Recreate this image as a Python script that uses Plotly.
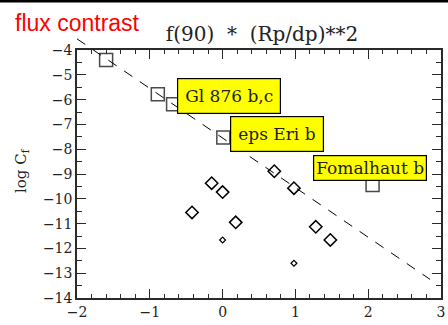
import plotly.graph_objects as go

# ---------------- data ----------------
sq_x = [-1.60, -0.89, -0.68, 0.01, 2.06]
sq_y = [-4.40, -5.78, -6.19, -7.53, -9.44]

dia_x = [0.71, 0.98, -0.15, 0.00, -0.42, 0.18, 1.28, 1.48]
dia_y = [-8.89, -9.57, -9.37, -9.73, -10.55, -10.95, -11.13, -11.66]

small_x = [0.00, 0.98]
small_y = [-11.66, -12.60]

line_x = [-2.00, 2.85]
line_y = [-3.55, -13.25]

label_text = ["Gl 876 b,c", "eps Eri b", "Fomalhaut b"]
label_x = [-0.63, 0.10, 1.245]
label_y = [-5.86, -7.40, -8.76]

x_range = [-2, 3]
y_range = [-14, -4]

# ---------------- layout geometry (pixels) ----------------
W, H = 448, 325
L, R = 77, 7
B = 27
PAPER_TOP = 35       # top of paper area (room for the line overshoot)
FRAME_TOP = 50       # top of the visible frame
paper_h = H - B - PAPER_TOP
frame_h = H - B - FRAME_TOP
main_frac = frame_h / paper_h
y2_top = y_range[0] + (y_range[1] - y_range[0]) / main_frac
paper_w = W - L - R


def px2x(px):
    return (px - L) / paper_w


def py2y(py):
    return (H - B - py) / paper_h


serif = "DejaVu Serif"
axis_col = "#2a2a2a"

fig = go.Figure()

fig.add_trace(go.Scatter(
    x=line_x, y=line_y, mode="lines", xaxis="x", yaxis="y2",
    line=dict(color="black", width=1, dash="10px,9px"),
    hoverinfo="skip", showlegend=False))

fig.add_trace(go.Scatter(
    x=sq_x, y=sq_y, mode="markers",
    marker=dict(symbol="square-open", size=13, color="#4a4a4a",
                line=dict(width=1.5, color="#4a4a4a")),
    showlegend=False))

fig.add_trace(go.Scatter(
    x=dia_x, y=dia_y, mode="markers",
    marker=dict(symbol="diamond-open", size=9.5, color="black",
                line=dict(width=1.5, color="black")),
    showlegend=False))

fig.add_trace(go.Scatter(
    x=small_x, y=small_y, mode="markers",
    marker=dict(symbol="diamond-open", size=4.5, color="black",
                line=dict(width=1.2, color="black")),
    showlegend=False))

annotations = []
pads = [7, 7, 2]
for t, ax_, ay_, p in zip(label_text, label_x, label_y, pads):
    annotations.append(dict(
        x=ax_, y=ay_, xref="x", yref="y", text=t, showarrow=False,
        xanchor="left", yanchor="middle",
        font=dict(family=serif, size=17, color="#222"),
        bgcolor="#ffff00", bordercolor="black", borderwidth=1.2, borderpad=p))

annotations.append(dict(
    x=px2x(13), y=py2y(23), xref="paper", yref="paper", text="flux contrast",
    showarrow=False, xanchor="left", yanchor="middle",
    font=dict(family="Liberation Sans, Arial", size=23, color="#ff0000")))

annotations.append(dict(
    x=px2x(21), y=py2y(171), xref="paper", yref="paper",
    text="log C<sub>f</sub>", textangle=-90, showarrow=False,
    xanchor="center", yanchor="middle",
    font=dict(family=serif, size=15, color="#222")))

fig.update_layout(
    width=W, height=H,
    margin=dict(l=L, r=R, t=PAPER_TOP, b=B, pad=0, autoexpand=False),
    paper_bgcolor="white", plot_bgcolor="rgba(0,0,0,0)",
    title=dict(text="f(90) \u00a0* \u00a0(Rp/dp)**2", x=262 / W, y=1 - 34 / H,
               xref="container", yref="container",
               xanchor="center", yanchor="middle",
               font=dict(family=serif, size=20, color="#222")),
    xaxis=dict(range=x_range, domain=[0, 1], anchor="y", automargin=False,
               showgrid=False, zeroline=False,
               showline=True, linecolor=axis_col, linewidth=1.5, mirror="ticks",
               ticks="inside", ticklen=9, tickwidth=1.3, tickcolor=axis_col,
               dtick=1, tick0=0,
               minor=dict(ticks="inside", ticklen=4, tickwidth=1.2,
                          tickcolor=axis_col, dtick=0.2, showgrid=False),
               tickfont=dict(family=serif, size=14, color="#222")),
    yaxis=dict(range=y_range, domain=[0, main_frac], anchor="x", automargin=False,
               showgrid=False, zeroline=False,
               showline=True, linecolor=axis_col, linewidth=1.5, mirror="ticks",
               ticks="inside", ticklen=9, tickwidth=1.3, tickcolor=axis_col,
               dtick=1, tick0=0,
               minor=dict(ticks="inside", ticklen=5, tickwidth=1.2,
                          tickcolor=axis_col, dtick=0.5, showgrid=False),
               tickfont=dict(family=serif, size=14, color="#222")),
    yaxis2=dict(range=[y_range[0], y2_top], domain=[0, 1], anchor="x",
                visible=False, showgrid=False, zeroline=False),
    annotations=annotations,
    shapes=[dict(type="line", xref="paper", yref="paper",
                 x0=px2x(0), x1=px2x(W), y0=py2y(1.2), y1=py2y(1.2),
                 line=dict(color="black", width=2.5))],
)

fig.write_html(
    "out.html",
    config={"displayModeBar": False},
    post_script="document.body.style.margin='0';document.body.style.padding='0';",
)
